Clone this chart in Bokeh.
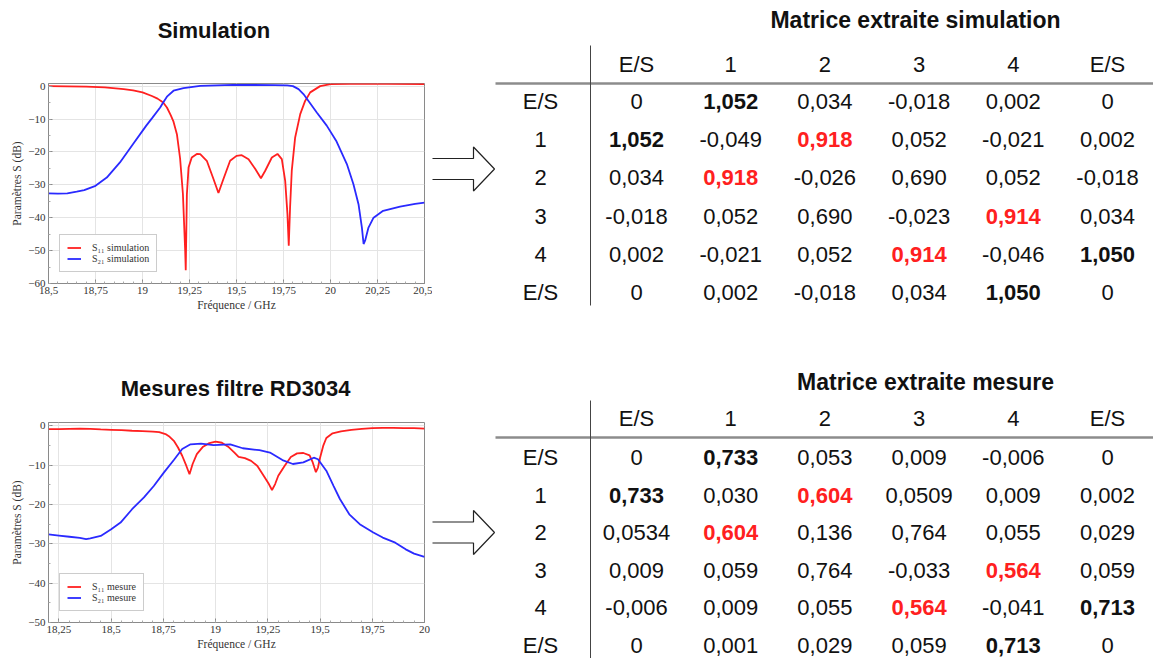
import numpy as np
from bokeh.plotting import figure
from bokeh.layouts import row, column
from bokeh.models import Range1d, FixedTicker, CustomJSTickFormatter, Legend, LegendItem, ColumnDataSource
from bokeh.embed import file_html
from bokeh.resources import INLINE
from bokeh.core.properties import value

# ---------------- data ----------------
sim_f_s11 = [18.50, 18.60, 18.70, 18.80, 18.90, 18.95, 19.00, 19.05, 19.08, 19.11, 19.13, 19.15,
             19.165, 19.183, 19.20, 19.215, 19.227, 19.230, 19.236, 19.245, 19.262, 19.289, 19.307,
             19.342, 19.378, 19.404, 19.43, 19.466, 19.50, 19.528, 19.564, 19.60, 19.63, 19.652,
             19.688, 19.718, 19.741, 19.759, 19.771, 19.778, 19.785, 19.794, 19.812, 19.839, 19.865,
             19.892, 19.945, 20.00, 20.10, 20.30, 20.50]
sim_s11 = [0.0, -0.05, -0.15, -0.4, -0.9, -1.3, -1.9, -3.0, -3.8, -5.0, -6.5, -8.8,
           -10.8, -14.6, -22.0, -32.8, -50.0, -56.0, -33.0, -24.7, -21.7, -20.6, -20.7,
           -22.7, -28.3, -32.5, -28.3, -22.7, -21.2, -21.0, -22.2, -25.2, -28.0, -25.8,
           -21.7, -20.6, -22.2, -28.8, -38.9, -48.5, -36.9, -25.7, -15.6, -8.5, -4.5,
           -1.9, 0.0, 0.6, 0.7, 0.7, 0.65]

sim_f_s21 = [18.50, 18.55, 18.60, 18.65, 18.69, 18.75, 18.81, 18.88, 18.95, 19.02, 19.05, 19.094,
             19.11, 19.13, 19.165, 19.218, 19.307, 19.48, 19.70, 19.77, 19.80, 19.83, 19.856,
             19.883, 19.927, 19.98, 20.03, 20.087, 20.122, 20.149, 20.167, 20.176, 20.184,
             20.202, 20.229, 20.28, 20.37, 20.45, 20.50]
sim_s21 = [-32.6, -32.7, -32.6, -32.1, -31.6, -30.3, -27.8, -23.2, -17.6, -12.0, -9.8, -6.5,
           -5.0, -3.2, -1.4, -0.6, 0.1, 0.4, 0.3, 0.2, 0.0, -0.9, -2.4,
           -4.5, -8.0, -12.0, -16.6, -23.7, -29.8, -35.9, -43.0, -48.0, -47.0,
           -43.0, -40.0, -37.9, -36.6, -35.8, -35.4]

mes_f_s11 = [18.20, 18.25, 18.30, 18.35, 18.40, 18.45, 18.50, 18.55, 18.60, 18.65, 18.70, 18.73,
             18.76, 18.78, 18.80, 18.82, 18.84, 18.86, 18.875, 18.89, 18.91, 18.94, 18.97, 19.00,
             19.03, 19.06, 19.09, 19.11, 19.14, 19.17, 19.20, 19.23, 19.255, 19.27, 19.285, 19.30,
             19.33, 19.36, 19.39, 19.42, 19.45, 19.465, 19.48, 19.49, 19.50, 19.515, 19.53, 19.56,
             19.60, 19.65, 19.70, 19.75, 19.80, 19.85, 19.90, 19.95, 20.00]
mes_s11 = [-0.85, -0.85, -0.75, -0.7, -0.75, -0.9, -1.0, -1.1, -1.25, -1.35, -1.45, -1.6,
           -2.1, -2.8, -3.8, -5.5, -7.6, -10.2, -12.3, -9.7, -7.2, -5.3, -4.4, -4.0,
           -4.3, -5.3, -6.8, -7.9, -8.2, -8.9, -10.2, -12.7, -14.8, -16.3, -14.8, -12.7,
           -10.2, -7.9, -7.0, -6.9, -7.5, -9.3, -11.8, -10.6, -8.1, -5.1, -3.1, -1.9,
           -1.4, -1.0, -0.75, -0.6, -0.5, -0.5, -0.6, -0.6, -0.7]

mes_f_s21 = [18.20, 18.25, 18.30, 18.35, 18.38, 18.40, 18.45, 18.50, 18.545, 18.60, 18.657, 18.704,
             18.752, 18.80, 18.84, 18.88, 18.93, 18.99, 19.07, 19.13, 19.21, 19.26, 19.32, 19.37,
             19.42, 19.47, 19.49, 19.53, 19.565, 19.595, 19.64, 19.69, 19.755, 19.80, 19.86,
             19.91, 19.95, 20.00]
mes_s21 = [-27.6, -27.9, -28.2, -28.5, -28.8, -28.6, -28.0, -26.3, -24.6, -21.2, -18.2, -15.3,
           -11.9, -8.7, -5.9, -4.7, -4.5, -4.9, -4.7, -5.7, -6.2, -6.8, -8.7, -9.7,
           -9.3, -8.1, -8.5, -11.4, -15.3, -18.6, -22.5, -25.0, -27.1, -28.4, -29.7,
           -31.4, -32.5, -33.3]

sim_xticks = [18.5, 18.75, 19.0, 19.25, 19.5, 19.75, 20.0, 20.25, 20.5]
sim_yticks = [0, -10, -20, -30, -40, -50, -60]
mes_xticks = [18.25, 18.5, 18.75, 19.0, 19.25, 19.5, 19.75, 20.0]
mes_yticks = [0, -10, -20, -30, -40, -50]

mat_header = ["E/S", "1", "2", "3", "4", "E/S"]
mat_labels = ["E/S", "1", "2", "3", "4", "E/S"]
sim_matrix = [
    ["0", "1,052", "0,034", "-0,018", "0,002", "0"],
    ["1,052", "-0,049", "0,918", "0,052", "-0,021", "0,002"],
    ["0,034", "0,918", "-0,026", "0,690", "0,052", "-0,018"],
    ["-0,018", "0,052", "0,690", "-0,023", "0,914", "0,034"],
    ["0,002", "-0,021", "0,052", "0,914", "-0,046", "1,050"],
    ["0", "0,002", "-0,018", "0,034", "1,050", "0"],
]
mes_matrix = [
    ["0", "0,733", "0,053", "0,009", "-0,006", "0"],
    ["0,733", "0,030", "0,604", "0,0509", "0,009", "0,002"],
    ["0,0534", "0,604", "0,136", "0,764", "0,055", "0,029"],
    ["0,009", "0,059", "0,764", "-0,033", "0,564", "0,059"],
    ["-0,006", "0,009", "0,055", "0,564", "-0,041", "0,713"],
    ["0", "0,001", "0,029", "0,059", "0,713", "0"],
]
bold_cells = [(0, 1), (1, 0), (4, 5), (5, 4)]
red_cells = [(1, 2), (2, 1), (3, 4), (4, 3)]

RED = "#ff2020"
BLUE = "#2a2aff"
SERIF = "Liberation Serif"
SANS = "Liberation Sans"

fmt = CustomJSTickFormatter(code="""
var s = (Math.round(tick*100)/100).toString().replace('.', ',');
return s.replace('-', '\u2212');
""")


def make_chart(height, top, bottom, xr, yr, xt, yt, f1, s1, f2, s2, lab1, lab2, minor_x):
    p = figure(width=432, height=height, x_range=Range1d(*xr), y_range=Range1d(*yr),
               output_backend="svg", toolbar_location=None,
               min_border_left=48, min_border_right=8, min_border_top=top, min_border_bottom=bottom)
    p.xaxis.ticker = FixedTicker(ticks=xt, minor_ticks=minor_x)
    p.yaxis.ticker = FixedTicker(ticks=yt, minor_ticks=list(np.arange(yr[0], 1, 5)))
    p.xgrid.ticker = FixedTicker(ticks=xt)
    p.ygrid.ticker = FixedTicker(ticks=yt)
    p.axis.formatter = fmt
    p.grid.grid_line_color = "#e4e4e4"
    p.axis.axis_line_color = "#8a8a8a"
    p.axis.major_tick_in = 4
    p.axis.major_tick_out = 0
    p.axis.minor_tick_in = 2
    p.axis.minor_tick_out = 0
    p.axis.major_tick_line_color = "#8a8a8a"
    p.axis.minor_tick_line_color = "#aaaaaa"
    p.axis.major_label_text_font = SERIF
    p.axis.major_label_text_font_size = "11px"
    p.axis.major_label_text_color = "#333333"
    p.axis.major_label_standoff = 3
    p.axis.axis_label_text_font = SERIF
    p.axis.axis_label_text_font_size = "11.5px"
    p.axis.axis_label_text_font_style = "normal"
    p.axis.axis_label_text_color = "#333333"
    p.axis.axis_label_standoff = 2
    p.xaxis.axis_label = "Fréquence / GHz"
    p.yaxis.axis_label = "Paramètres S (dB)"
    p.outline_line_color = "#8a8a8a"
    r1 = p.line(f1, s1, line_color=RED, line_width=1.8)
    r2 = p.line(f2, s2, line_color=BLUE, line_width=1.8)
    leg = Legend(items=[LegendItem(label=lab1, renderers=[r1]), LegendItem(label=lab2, renderers=[r2])],
                 location=(11, 11))
    leg.label_text_font = SERIF
    leg.label_text_font_size = "10px"
    leg.label_text_color = "#333333"
    leg.border_line_color = "#999999"
    leg.padding = 7
    leg.spacing = 0
    leg.margin = 0
    leg.glyph_width = 14
    leg.glyph_height = 11
    leg.label_height = 11
    leg.label_standoff = 11
    p.add_layout(leg)
    return p


def text_canvas(width, height, x0, y0):
    p = figure(width=width, height=height, x_range=Range1d(x0, x0 + width),
               y_range=Range1d(y0 + height, y0), x_axis_type=None, y_axis_type=None,
               output_backend="svg", toolbar_location=None, min_border=0)
    p.outline_line_color = None
    return p


# --- left column ---
t1 = text_canvas(432, 68, 0, 0)
t1.text(x=[190], y=[30], text=["Simulation"], text_font=value(SANS), text_font_style="bold",
        text_font_size="22px", text_align="center", text_baseline="middle", text_color="#111111")

c1 = make_chart(280, 15, 65, (18.5, 20.5), (-60, 0.8), sim_xticks, sim_yticks,
                sim_f_s11, sim_s11, sim_f_s21, sim_s21, "S\u2081\u2081 simulation", "S\u2082\u2081 simulation",
                list(np.arange(18.5, 20.51, 0.05)))

t2 = text_canvas(432, 55, 0, 348)
t2.text(x=[215], y=[388], text=["Mesures filtre RD3034"], text_font=value(SANS), text_font_style="bold",
        text_font_size="22px", text_align="center", text_baseline="middle", text_color="#111111")

c2 = make_chart(255, 19, 36, (18.2, 20.0), (-50, 0.85), mes_xticks, mes_yticks,
                mes_f_s11, mes_s11, mes_f_s21, mes_s21, "S\u2081\u2081 mesure", "S\u2082\u2081 mesure",
                list(np.arange(18.2, 20.01, 0.05)))

left = column(t1, c1, t2, c2, spacing=0)

# --- right canvas ---
rc = text_canvas(721, 658, 432, 0)


def arrow(p, yc):
    xs = [415, 473, 473, 494, 473, 473, 415]
    ys = [yc - 10.5, yc - 10.5, yc - 22, yc, yc + 22, yc + 10.5, yc + 10.5]
    p.patch(xs, ys, fill_color="white", line_color="#222222", line_width=1.2)


arrow(rc, 168.5)
arrow(rc, 532)

COLX0, COLDX, LABX = 636, 94.2, 540


def table(p, title, tx, ty, y_head, y_row0, dy, line_y, vy0, vy1, matrix):
    p.text(x=[tx], y=[ty], text=[title], text_font=value(SANS), text_font_style="bold",
           text_font_size="23px", text_align="center", text_baseline="middle", text_color="#111111")
    p.line([495, 1160], [line_y, line_y], line_color="#8c8c8c", line_width=2.5)
    p.line([590, 590], [vy0, vy1], line_color="#444444", line_width=1)
    hx = [COLX0 + i * COLDX for i in range(len(mat_header))]
    p.text(x=hx, y=[y_head] * len(hx), text=mat_header, text_font=value(SANS), text_font_size="22px",
           text_align="center", text_baseline="middle", text_color="#111111")
    ly = [y_row0 + j * dy for j in range(len(mat_labels))]
    p.text(x=[LABX] * len(ly), y=ly, text=mat_labels, text_font=value(SANS), text_font_size="22px",
           text_align="center", text_baseline="middle", text_color="#111111")
    norm = dict(x=[], y=[], t=[])
    bold = dict(x=[], y=[], t=[], c=[])
    for j, rowv in enumerate(matrix):
        for i, v in enumerate(rowv):
            x = COLX0 + i * COLDX
            y = y_row0 + j * dy
            if (j, i) in red_cells:
                bold["x"].append(x); bold["y"].append(y); bold["t"].append(v); bold["c"].append(RED)
            elif (j, i) in bold_cells:
                bold["x"].append(x); bold["y"].append(y); bold["t"].append(v); bold["c"].append("#111111")
            else:
                norm["x"].append(x); norm["y"].append(y); norm["t"].append(v)
    p.text(x="x", y="y", text="t", source=ColumnDataSource(norm), text_font=value(SANS),
           text_font_size="22px", text_align="center", text_baseline="middle", text_color="#111111")
    p.text(x="x", y="y", text="t", source=ColumnDataSource(bold), text_font=value(SANS),
           text_font_size="22px", text_font_style="bold", text_align="center", text_baseline="middle",
           text_color="c")


table(rc, "Matrice extraite simulation", 915, 19, 64, 101, 38.2, 83, 45, 305, sim_matrix)
table(rc, "Matrice extraite mesure", 925, 381, 418, 457, 37.6, 437, 400, 670, mes_matrix)

layout = row(left, rc, spacing=0)

open("out.html", "w").write(file_html(layout, INLINE))
